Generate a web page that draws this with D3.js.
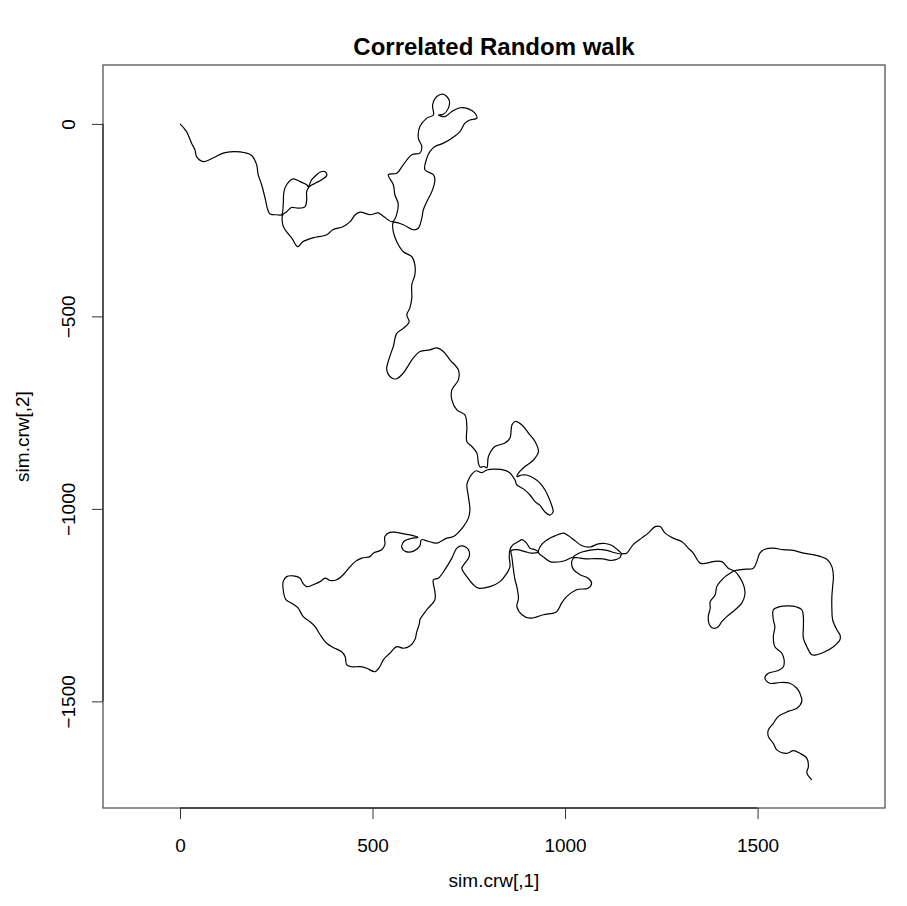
<!DOCTYPE html>
<html><head><meta charset="utf-8">
<script src="https://cdn.jsdelivr.net/npm/d3@7"></script>
<style>body{margin:0;background:#fff}svg{display:block}</style>
</head><body>
<script>
const title = "Correlated Random walk";
const xLabel = "sim.crw[,1]";
const yLabel = "sim.crw[,2]";
const xTicks = [0, 500, 1000, 1500];
const yTicks = [-1500, -1000, -500, 0];
const xDomain = [-200, 1831];
const yDomain = [-1777, 153];

// walk coordinates (sim.crw[,1], sim.crw[,2])
const crwX = [0,17,30,39,43,61,87,112,138,169,186,199,203,212,221,228,234,251,264,
268,270,277,294,312,329,333,342,353,364,377,381,368,351,336,329,329,325,307,290,277,267,
267,273,290,306,319,345,381,397,423,442,455,468,494,514,527,552,
567,558,554,541,563,580,602,623,628,619,623,641,658,656,667,684,699,697,684,671,688,706,727,749,766,771,753,740,727,706,684,662,649,641,636,658,662,654,641,632,628,619,606,580,554,
554,563,580,602,610,610,602,602,597,589,595,580,563,554,545,537,550,563,580,606,623,649,667,684,701,723,723,706,706,719,740,745,745,758,771,775,779,790,797,
801,818,844,857,862,870,888,905,922,931,918,896,879,875,
888,900,918,935,948,957,965,969,961,948,935,922,909,892,875,870,
857,844,818,797,784,769,758,749,
745,749,753,749,736,710,693,667,644,627,623,608,587,576,582,600,618,603,582,561,545,
532,532,524,502,493,472,455,442,424,407,390,377,364,346,329,319,312,294,277,268,268,275,290,307,320,338,351,364,381,398,420,429,433,446,468,485,506,519,528,545,563,580,597,610,615,622,623,641,662,662,658,671,688,706,719,732,749,751,740,732,745,762,775,805,831,849,857,855,857,
865,879,888,900,909,922,931,913,896,875,860,
862,866,870,875,879,875,888,909,944,978,991,1004,1030,1060,1069,1060,1039,1022,1017,1022,
1001,982,961,944,931,
939,957,974,996,1009,1026,1043,1065,1086,1104,1122,1135,1147,
1130,1109,1086,1065,1044,1029,1022,
1034,1054,1078,1099,1117,1132,1143,1147,
1160,1177,1199,1216,1234,1247,1260,1281,1303,1320,1333,1351,1368,1385,1407,1424,1442,1455,1465,1467,1459,1442,1420,1407,1398,1385,1375,1372,1377,1377,1390,1394,1403,1416,1429,1442,1463,1489,1498,1506,1519,1541,1567,1593,1619,1645,1680,1693,1697,1695,1693,1693,1695,1706,1714,1714,1697,1675,1654,1641,1628,1619,1619,1619,1615,1602,1580,1558,1541,1541,1545,1541,1545,1563,1569,1567,1554,1528,1519,1532,1558,1584,1602,1610,1615,1602,1580,1554,1541,1528,1528,1541,1550,1576,1593,1610,1628,1632,1628,1641];
const crwY = [0,-20,-50,-68,-85,-98,-88,-76,-72,-75,-82,-106,-132,-158,-193,-223,-234,-236,-236,
-210,-176,-158,-143,-150,-158,-163,-145,-134,-125,-124,-134,-145,-154,-163,-176,-197,-215,-219,-217,-228,-236,
-262,-275,-296,-319,-306,-296,-288,-275,-267,-254,-236,-229,-236,-231,-239,-254,
-210,-184,-158,-132,-128,-106,-80,-76,-59,-37,-7,15,23,49,71,77,62,41,25,23,19,32,42,39,28,15,10,2,-20,-37,-50,-59,-72,-89,-119,-132,-145,-176,-202,-223,-245,-271,-275,-262,-256,
-280,-306,-332,-345,-366,-392,-418,-452,-478,-496,-514,-531,-544,-578,-604,-639,-660,-662,-647,-608,-591,-587,-582,-591,-613,-639,-665,-691,-717,-743,-756,-786,-825,-838,-855,-881,-891,-890,-893,
-864,-838,-829,-816,-782,-773,-782,-803,-825,-851,-873,-890,-907,-916,
-912,-912,-920,-933,-951,-969,-990,-1008,-1016,-1008,-991,-981,-964,-948,-938,-925,
-907,-900,-897,-899,-906,-901,-910,-925,
-938,-968,-1003,-1024,-1046,-1072,-1076,-1089,-1084,-1080,-1096,-1109,-1111,-1100,-1084,-1077,-1074,-1069,-1065,-1061,-1061,
-1072,-1093,-1106,-1115,-1124,-1128,-1137,-1150,-1171,-1184,-1186,-1180,-1189,-1197,-1202,-1193,-1180,-1174,-1176,-1189,-1210,-1236,-1245,-1258,-1280,-1293,-1306,-1327,-1349,-1360,-1371,-1384,-1405,-1410,-1410,-1414,-1423,-1410,-1392,-1375,-1358,-1362,-1356,-1340,-1319,-1297,-1288,-1262,-1236,-1215,-1184,-1180,-1158,-1128,-1102,-1096,-1106,-1124,-1141,-1154,-1176,-1197,-1206,-1202,-1189,-1167,-1150,-1124,-1106,
-1093,-1085,-1080,-1089,-1102,-1106,-1112,-1115,-1111,-1106,-1109,
-1125,-1158,-1184,-1203,-1232,-1254,-1275,-1284,-1275,-1267,-1245,-1228,-1210,-1206,-1193,-1180,-1171,-1158,-1138,-1125,
-1134,-1138,-1137,-1125,-1114,
-1093,-1078,-1070,-1063,-1070,-1083,-1095,-1099,-1091,-1090,-1095,-1105,-1117,
-1114,-1108,-1105,-1107,-1112,-1119,-1125,
-1127,-1130,-1129,-1130,-1134,-1132,-1126,-1117,
-1115,-1093,-1076,-1063,-1046,-1046,-1063,-1076,-1085,-1102,-1115,-1141,-1141,-1137,-1137,-1154,-1163,-1180,-1202,-1223,-1245,-1262,-1280,-1293,-1306,-1310,-1301,-1280,-1258,-1241,-1223,-1202,-1189,-1176,-1167,-1160,-1157,-1154,-1137,-1115,-1105,-1102,-1106,-1108,-1115,-1119,-1131,-1150,-1176,-1202,-1228,-1258,-1288,-1314,-1327,-1340,-1358,-1371,-1379,-1379,-1358,-1336,-1306,-1280,-1262,-1255,-1252,-1254,-1262,-1288,-1306,-1332,-1358,-1375,-1392,-1410,-1420,-1427,-1440,-1453,-1451,-1453,-1466,-1479,-1500,-1518,-1526,-1539,-1557,-1574,-1591,-1609,-1626,-1635,-1628,-1635,-1648,-1669,-1686,-1704];

const W = 907, H = 906;
const L = 103, R = 885, T = 65, B = 808;
const svg = d3.select("body").append("svg").attr("width", W).attr("height", H);
const x = d3.scaleLinear().domain(xDomain).range([L, R]);
const y = d3.scaleLinear().domain(yDomain).range([B, T]);
const font = "'Liberation Sans', Arial, Helvetica, sans-serif";

const pts = crwX.map((v, i) => [v, crwY[i]]);
svg.append("path")
  .datum(pts)
  .attr("fill", "none")
  .attr("stroke", "#000")
  .attr("stroke-width", 1.2)
  .attr("stroke-linejoin", "round")
  .attr("d", d3.line().x(d => x(d[0])).y(d => y(d[1])).curve(d3.curveCatmullRom.alpha(0.5)));

// box
svg.append("rect").attr("x", L).attr("y", T).attr("width", R - L).attr("height", B - T)
  .attr("fill", "none").attr("stroke", "#555").attr("stroke-width", 1.3);

// x axis
const gx = svg.append("g").attr("transform", `translate(0,${B})`)
  .call(d3.axisBottom(x).tickValues(xTicks).tickSize(11).tickPadding(20).tickFormat(d3.format("d")));
gx.select(".domain").attr("d", `M${x(xTicks[0])},0H${x(xTicks[xTicks.length-1])}`).attr("stroke", "#333").attr("stroke-width", 1.3);
gx.selectAll(".tick line").attr("stroke", "#333");
gx.selectAll("text").attr("font-family", font).attr("font-size", 19).attr("fill", "#000");

// y axis
const gy = svg.append("g").attr("transform", `translate(${L},0)`)
  .call(d3.axisLeft(y).tickValues(yTicks).tickSize(11).tickFormat(d3.format("d")));
gy.select(".domain").attr("d", `M0,${y(yTicks[0])}V${y(yTicks[yTicks.length-1])}`).attr("stroke", "#333").attr("stroke-width", 1.3);
gy.selectAll(".tick line").attr("stroke", "#333");
gy.selectAll("text").attr("font-family", font).attr("font-size", 19).attr("fill", "#000")
  .attr("text-anchor", "middle").attr("dy", null).attr("x", null)
  .attr("transform", "translate(-28,0) rotate(-90)");

svg.append("text").attr("x", (L + R) / 2).attr("y", 55).attr("text-anchor", "middle")
  .attr("font-family", font).attr("font-weight", "bold").attr("font-size", 24).text(title);
svg.append("text").attr("x", (L + R) / 2).attr("y", 887).attr("text-anchor", "middle")
  .attr("font-family", font).attr("font-size", 19).text(xLabel);
svg.append("text").attr("transform", `translate(29,${(T + B) / 2}) rotate(-90)`).attr("text-anchor", "middle")
  .attr("font-family", font).attr("font-size", 19).text(yLabel);
</script>
</body></html>
